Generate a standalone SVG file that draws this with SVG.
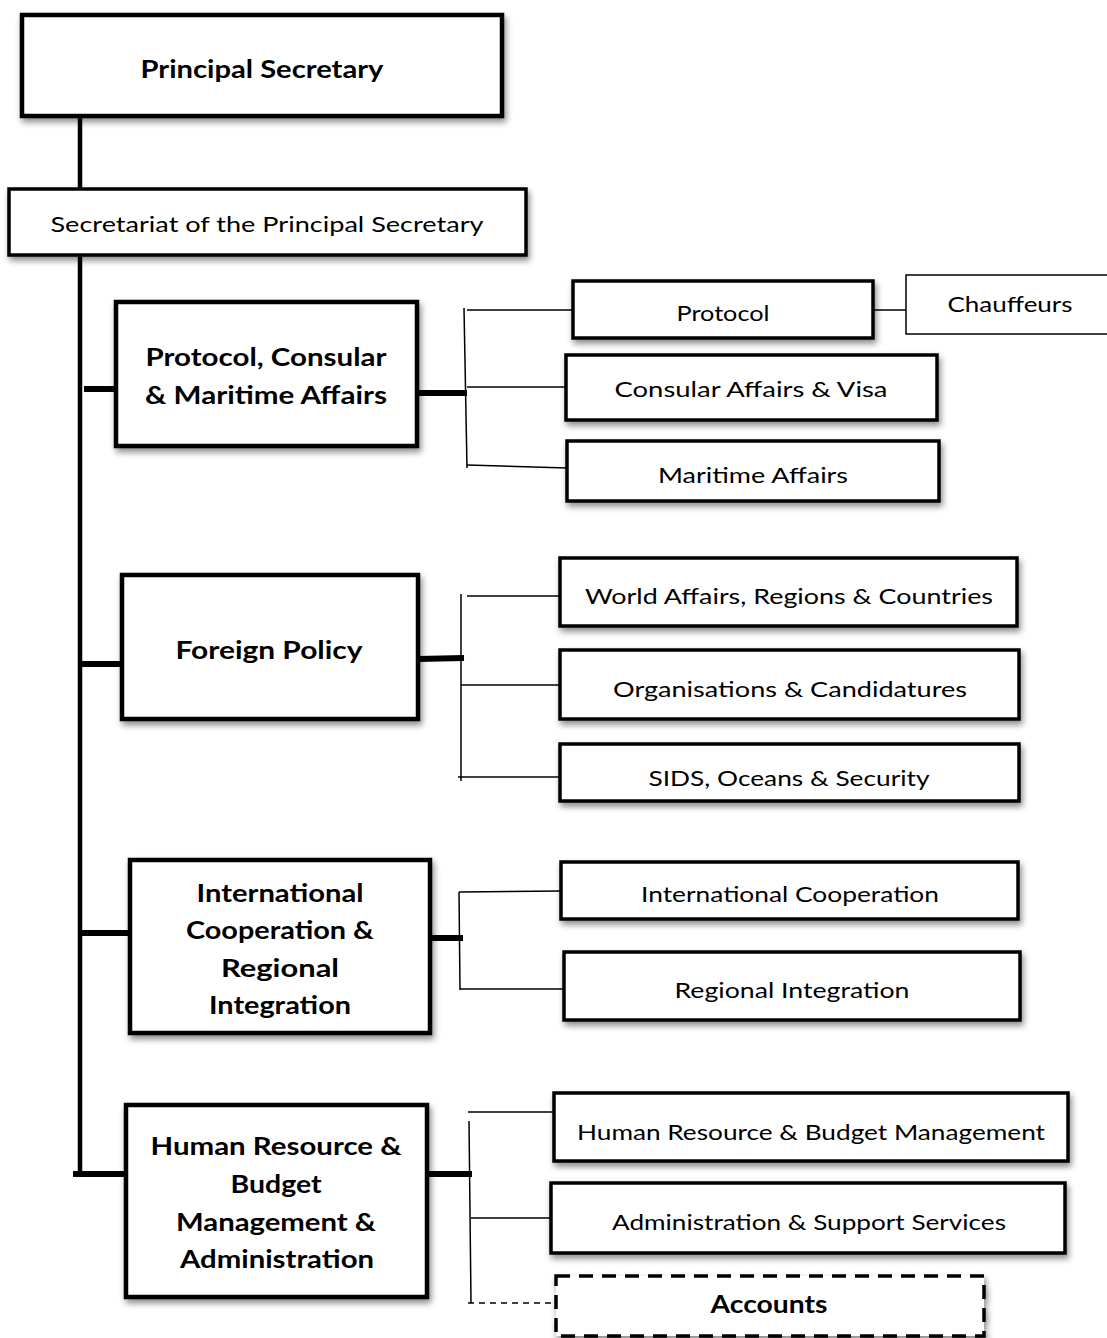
<svg xmlns="http://www.w3.org/2000/svg" width="1107" height="1338" viewBox="0 0 1107 1338">
  <defs>
    <filter id="shadow" x="-10%" y="-20%" width="125%" height="150%">
      <feDropShadow dx="2" dy="4" stdDeviation="3" flood-color="#000" flood-opacity="0.45"/>
    </filter>
  </defs>
  <style>
    .box { fill: #fff; stroke: #000; stroke-width: 4.5; filter: url(#shadow); }
    .sub { fill: #fff; stroke: #000; stroke-width: 3.5; filter: url(#shadow); }
    .thin { fill: #fff; stroke: #000; stroke-width: 1.5; }
    .dash { fill: #fff; stroke: #000; stroke-width: 3.5; stroke-dasharray: 14 9; filter: url(#shadow); }
    .trunk { stroke: #000; stroke-width: 4.5; fill: none; }
    .stub { stroke: #000; stroke-width: 6; fill: none; }
    .link { stroke: #000; stroke-width: 1.5; fill: none; }
    .dlink { stroke: #000; stroke-width: 1.5; fill: none; stroke-dasharray: 6 5; }
    text { font-family: Lato, "Noto Sans", "DejaVu Sans", sans-serif; fill: #000; text-anchor: middle; }
    .b { font-weight: bold; font-size: 25px; }
    .r { font-size: 22px; }
  </style>

  <rect width="1107" height="1338" fill="#fff"/>

  <!-- connectors -->
  <g id="connectors">
    <!-- main trunk -->
    <line class="trunk" x1="80" y1="115" x2="80" y2="190"/>
    <line class="trunk" x1="80" y1="254" x2="80" y2="1177"/>
    <!-- stubs from the trunk to the divisions -->
    <line class="stub" x1="84" y1="389" x2="116" y2="389"/>
    <line class="stub" x1="80" y1="664" x2="122" y2="664"/>
    <line class="stub" x1="80" y1="933" x2="130" y2="933"/>
    <line class="stub" x1="73" y1="1174" x2="126" y2="1174"/>
    <!-- protocol, consular & maritime -->
    <line class="stub" x1="417" y1="393" x2="467" y2="393"/>
    <line class="link" x1="464" y1="308" x2="467" y2="468"/>
    <line class="link" x1="467" y1="310" x2="573" y2="310"/>
    <line class="link" x1="467" y1="387" x2="566" y2="387"/>
    <line class="link" x1="467" y1="465" x2="567" y2="468"/>
    <line class="link" x1="873" y1="310" x2="906" y2="310"/>
    <!-- foreign policy -->
    <line class="stub" x1="418" y1="659" x2="464" y2="658"/>
    <line class="link" x1="461" y1="594" x2="461" y2="781"/>
    <line class="link" x1="467" y1="596" x2="560" y2="596"/>
    <line class="link" x1="461" y1="685" x2="563" y2="685"/>
    <line class="link" x1="458" y1="777" x2="560" y2="777"/>
    <!-- international cooperation & regional integration -->
    <line class="stub" x1="430" y1="938" x2="463" y2="938"/>
    <line class="link" x1="459" y1="892" x2="460" y2="990"/>
    <line class="link" x1="459" y1="892" x2="561" y2="891"/>
    <line class="link" x1="460" y1="989" x2="567" y2="989"/>
    <!-- human resource & administration -->
    <line class="stub" x1="427" y1="1174" x2="472" y2="1174"/>
    <line class="link" x1="469" y1="1121" x2="471" y2="1303"/>
    <line class="link" x1="468" y1="1112" x2="554" y2="1112"/>
    <line class="link" x1="471" y1="1218" x2="551" y2="1218"/>
    <line class="dlink" x1="468" y1="1303" x2="556" y2="1303"/>
  </g>

  <g id="principal-secretary">
    <rect class="box" x="22" y="15" width="480" height="101"/>
    <text class="b" x="262" y="78" textLength="243" lengthAdjust="spacingAndGlyphs">Principal Secretary</text>
  </g>

  <g id="secretariat">
    <rect class="sub" x="9" y="189" width="517" height="66"/>
    <text class="r" x="267" y="232" textLength="433" lengthAdjust="spacingAndGlyphs">Secretariat of the Principal Secretary</text>
  </g>

  <g id="protocol-consular-maritime">
    <rect class="box" x="116" y="302" width="301" height="144"/>
    <text class="b" x="266" y="366" textLength="241" lengthAdjust="spacingAndGlyphs">Protocol, Consular</text>
    <text class="b" x="266" y="404" textLength="242" lengthAdjust="spacingAndGlyphs">&amp; Maritime Affairs</text>
  </g>

  <g id="protocol">
    <rect class="sub" x="573" y="281" width="300" height="57"/>
    <text class="r" x="723" y="321" textLength="93" lengthAdjust="spacingAndGlyphs">Protocol</text>
  </g>

  <g id="chauffeurs">
    <rect class="thin" x="906" y="275" width="210" height="59"/>
    <text class="r" x="1010" y="312" textLength="125" lengthAdjust="spacingAndGlyphs">Chauffeurs</text>
  </g>

  <g id="consular-affairs">
    <rect class="sub" x="566" y="355" width="371" height="65"/>
    <text class="r" x="751" y="397" textLength="273" lengthAdjust="spacingAndGlyphs">Consular Affairs &amp; Visa</text>
  </g>

  <g id="maritime-affairs">
    <rect class="sub" x="567" y="441" width="372" height="60"/>
    <text class="r" x="753" y="483" textLength="190" lengthAdjust="spacingAndGlyphs">Maritime Affairs</text>
  </g>

  <g id="foreign-policy">
    <rect class="box" x="122" y="575" width="296" height="144"/>
    <text class="b" x="269" y="659" textLength="187" lengthAdjust="spacingAndGlyphs">Foreign Policy</text>
  </g>

  <g id="world-affairs">
    <rect class="sub" x="560" y="558" width="457" height="68"/>
    <text class="r" x="789" y="604" textLength="408" lengthAdjust="spacingAndGlyphs">World Affairs, Regions &amp; Countries</text>
  </g>

  <g id="organisations">
    <rect class="sub" x="560" y="650" width="459" height="69"/>
    <text class="r" x="790" y="697" textLength="354" lengthAdjust="spacingAndGlyphs">Organisations &amp; Candidatures</text>
  </g>

  <g id="sids-oceans">
    <rect class="sub" x="560" y="744" width="459" height="57"/>
    <text class="r" x="789" y="786" textLength="281" lengthAdjust="spacingAndGlyphs">SIDS, Oceans &amp; Security</text>
  </g>

  <g id="international-cooperation-regional-integration">
    <rect class="box" x="130" y="860" width="300" height="173"/>
    <text class="b" x="280" y="902" textLength="167" lengthAdjust="spacingAndGlyphs">International</text>
    <text class="b" x="280" y="939" textLength="188" lengthAdjust="spacingAndGlyphs">Cooperation &amp;</text>
    <text class="b" x="280" y="977" textLength="118" lengthAdjust="spacingAndGlyphs">Regional</text>
    <text class="b" x="280" y="1014" textLength="142" lengthAdjust="spacingAndGlyphs">Integration</text>
  </g>

  <g id="international-cooperation">
    <rect class="sub" x="561" y="862" width="457" height="57"/>
    <text class="r" x="790" y="902" textLength="298" lengthAdjust="spacingAndGlyphs">International Cooperation</text>
  </g>

  <g id="regional-integration">
    <rect class="sub" x="564" y="952" width="456" height="68"/>
    <text class="r" x="792" y="998" textLength="235" lengthAdjust="spacingAndGlyphs">Regional Integration</text>
  </g>

  <g id="human-resource-administration">
    <rect class="box" x="126" y="1105" width="301" height="192"/>
    <text class="b" x="276" y="1155" textLength="251" lengthAdjust="spacingAndGlyphs">Human Resource &amp;</text>
    <text class="b" x="276" y="1193" textLength="91" lengthAdjust="spacingAndGlyphs">Budget</text>
    <text class="b" x="276" y="1231" textLength="200" lengthAdjust="spacingAndGlyphs">Management &amp;</text>
    <text class="b" x="277" y="1268" textLength="194" lengthAdjust="spacingAndGlyphs">Administration</text>
  </g>

  <g id="hr-budget-management">
    <rect class="sub" x="554" y="1093" width="514" height="68"/>
    <text class="r" x="811" y="1140" textLength="468" lengthAdjust="spacingAndGlyphs">Human Resource &amp; Budget Management</text>
  </g>

  <g id="administration-support">
    <rect class="sub" x="551" y="1183" width="514" height="70"/>
    <text class="r" x="809" y="1230" textLength="394" lengthAdjust="spacingAndGlyphs">Administration &amp; Support Services</text>
  </g>

  <g id="accounts">
    <rect class="dash" x="556" y="1276" width="428" height="60"/>
    <text class="b" x="769" y="1313" textLength="117" lengthAdjust="spacingAndGlyphs">Accounts</text>
  </g>
</svg>
